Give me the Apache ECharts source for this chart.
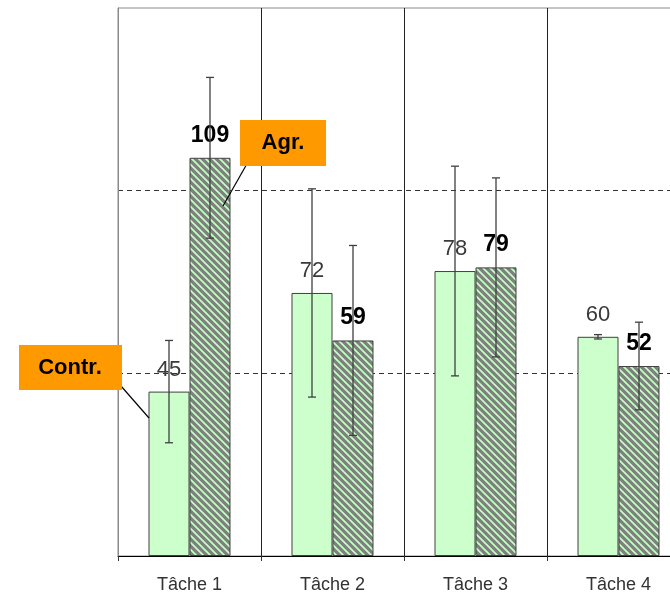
<!DOCTYPE html>
<html><head><meta charset="utf-8">
<script src="https://cdn.jsdelivr.net/npm/echarts@6/dist/echarts.min.js"></script>
<style>html,body{margin:0;padding:0;background:#fff;overflow:hidden;width:670px;height:595px}#c{width:690px;height:595px}</style>
</head><body><div id="c"></div>
<script>
const categories = ['Tâche 1', 'Tâche 2', 'Tâche 3', 'Tâche 4'];
const contrValues = [45, 72, 78, 60];
const agrValues = [109, 59, 79, 52];
const contrErr = [14, 28.5, 28.7, 0.6];
const agrErr = [22, 26, 24.5, 12];
const yTicks = [0, 50, 100, 150];

const FONT = "'Liberation Sans', Arial, sans-serif";
const BAR_FRAC = 0.2867;

function makeHatch() {
  const p = 7;
  const c = document.createElement('canvas');
  c.width = p; c.height = p;
  const g = c.getContext('2d');
  const img = g.createImageData(p, p);
  for (let y = 0; y < p; y++) {
    for (let x = 0; x < p; x++) {
      const d = (((x - y) % p) + p) % p;
      const k = (y * p + x) * 4;
      let col;
      if (d < 4) col = [128, 128, 128];
      else if (d === 4 || d === 6) col = [172, 222, 172];
      else col = [200, 255, 200];
      img.data[k] = col[0]; img.data[k + 1] = col[1]; img.data[k + 2] = col[2]; img.data[k + 3] = 255;
    }
  }
  g.putImageData(img, 0, 0);
  return c;
}

function errSeries(vals, errs, side) {
  return {
    type: 'custom',
    z: 5,
    data: vals.map((v, i) => [i, v - errs[i], v + errs[i]]),
    encode: { x: 0, y: [1, 2] },
    renderItem(params, api) {
      const i = api.value(0);
      const top = api.coord([i, api.value(2)]);
      const bot = api.coord([i, api.value(1)]);
      const bw = api.size([1, 0])[0] * BAR_FRAC;
      const x = top[0] + side * bw / 2;
      const cap = 4;
      const st = { stroke: '#404040', lineWidth: 1.3 };
      return { type: 'group', children: [
        { type: 'line', shape: { x1: x, y1: top[1], x2: x, y2: bot[1] }, style: st },
        { type: 'line', shape: { x1: x - cap, y1: top[1], x2: x + cap, y2: top[1] }, style: st },
        { type: 'line', shape: { x1: x - cap, y1: bot[1], x2: x + cap, y2: bot[1] }, style: st }
      ]};
    }
  };
}

const chart = echarts.init(document.getElementById('c'), null, { renderer: 'canvas' });
chart.setOption({
  animation: false,
  grid: { left: 118, top: 8, right: 0, bottom: 39, show: true, borderColor: '#8a8a8a', borderWidth: 1, backgroundColor: 'transparent' },
  xAxis: {
    type: 'category', data: categories,
    axisLine: { lineStyle: { color: '#000', width: 1 } },
    axisTick: { show: true, length: 5, lineStyle: { color: '#333' } },
    axisLabel: { color: '#333', fontSize: 18, fontFamily: FONT, margin: 20 },
    splitLine: { show: true, showMinLine: false, lineStyle: { color: '#222', width: 1 } }
  },
  yAxis: {
    type: 'value', min: yTicks[0], max: yTicks[yTicks.length - 1], interval: yTicks[1] - yTicks[0],
    axisLine: { show: true, lineStyle: { color: '#8a8a8a' } },
    axisTick: { show: false },
    axisLabel: { show: false },
    splitLine: { show: true, showMinLine: false, showMaxLine: false, lineStyle: { color: '#333', type: [5, 4], width: 1 } }
  },
  series: [
    {
      type: 'bar', data: contrValues, barWidth: (BAR_FRAC * 100) + '%', barGap: '0%',
      itemStyle: { color: '#ccffcc', borderColor: '#404040', borderWidth: 1 },
      label: { show: true, position: 'top', distance: 11, color: '#3a3a3a', fontSize: 22, fontFamily: FONT }
    },
    {
      type: 'bar', data: agrValues, barWidth: (BAR_FRAC * 100) + '%', barGap: '0%',
      itemStyle: { color: { image: makeHatch(), repeat: 'repeat' }, borderColor: '#404040', borderWidth: 1 },
      label: { show: true, position: 'top', distance: 11, color: '#000', fontSize: 23, fontWeight: 'bold', fontFamily: FONT }
    },
    errSeries(contrValues, contrErr, -1),
    errSeries(agrValues, agrErr, 1)
  ],
  graphic: [
    { type: 'line', z: 100, shape: { x1: 248, y1: 162, x2: 223, y2: 206 }, style: { stroke: '#000', lineWidth: 1.2 } },
    { type: 'rect', z: 100, shape: { x: 240, y: 120, width: 86, height: 46 }, style: { fill: '#ff9900' } },
    { type: 'text', z: 101, x: 283, y: 143, style: { text: 'Agr.', fill: '#000', font: "bold 22px 'Liberation Sans', Arial", align: 'center', verticalAlign: 'middle' } },
    { type: 'line', z: 100, shape: { x1: 121, y1: 386, x2: 149, y2: 418 }, style: { stroke: '#000', lineWidth: 1.2 } },
    { type: 'rect', z: 100, shape: { x: 19, y: 345, width: 103, height: 45 }, style: { fill: '#ff9900' } },
    { type: 'text', z: 101, x: 70, y: 368, style: { text: 'Contr.', fill: '#000', font: "bold 22px 'Liberation Sans', Arial", align: 'center', verticalAlign: 'middle' } }
  ]
});
</script>
</body></html>
